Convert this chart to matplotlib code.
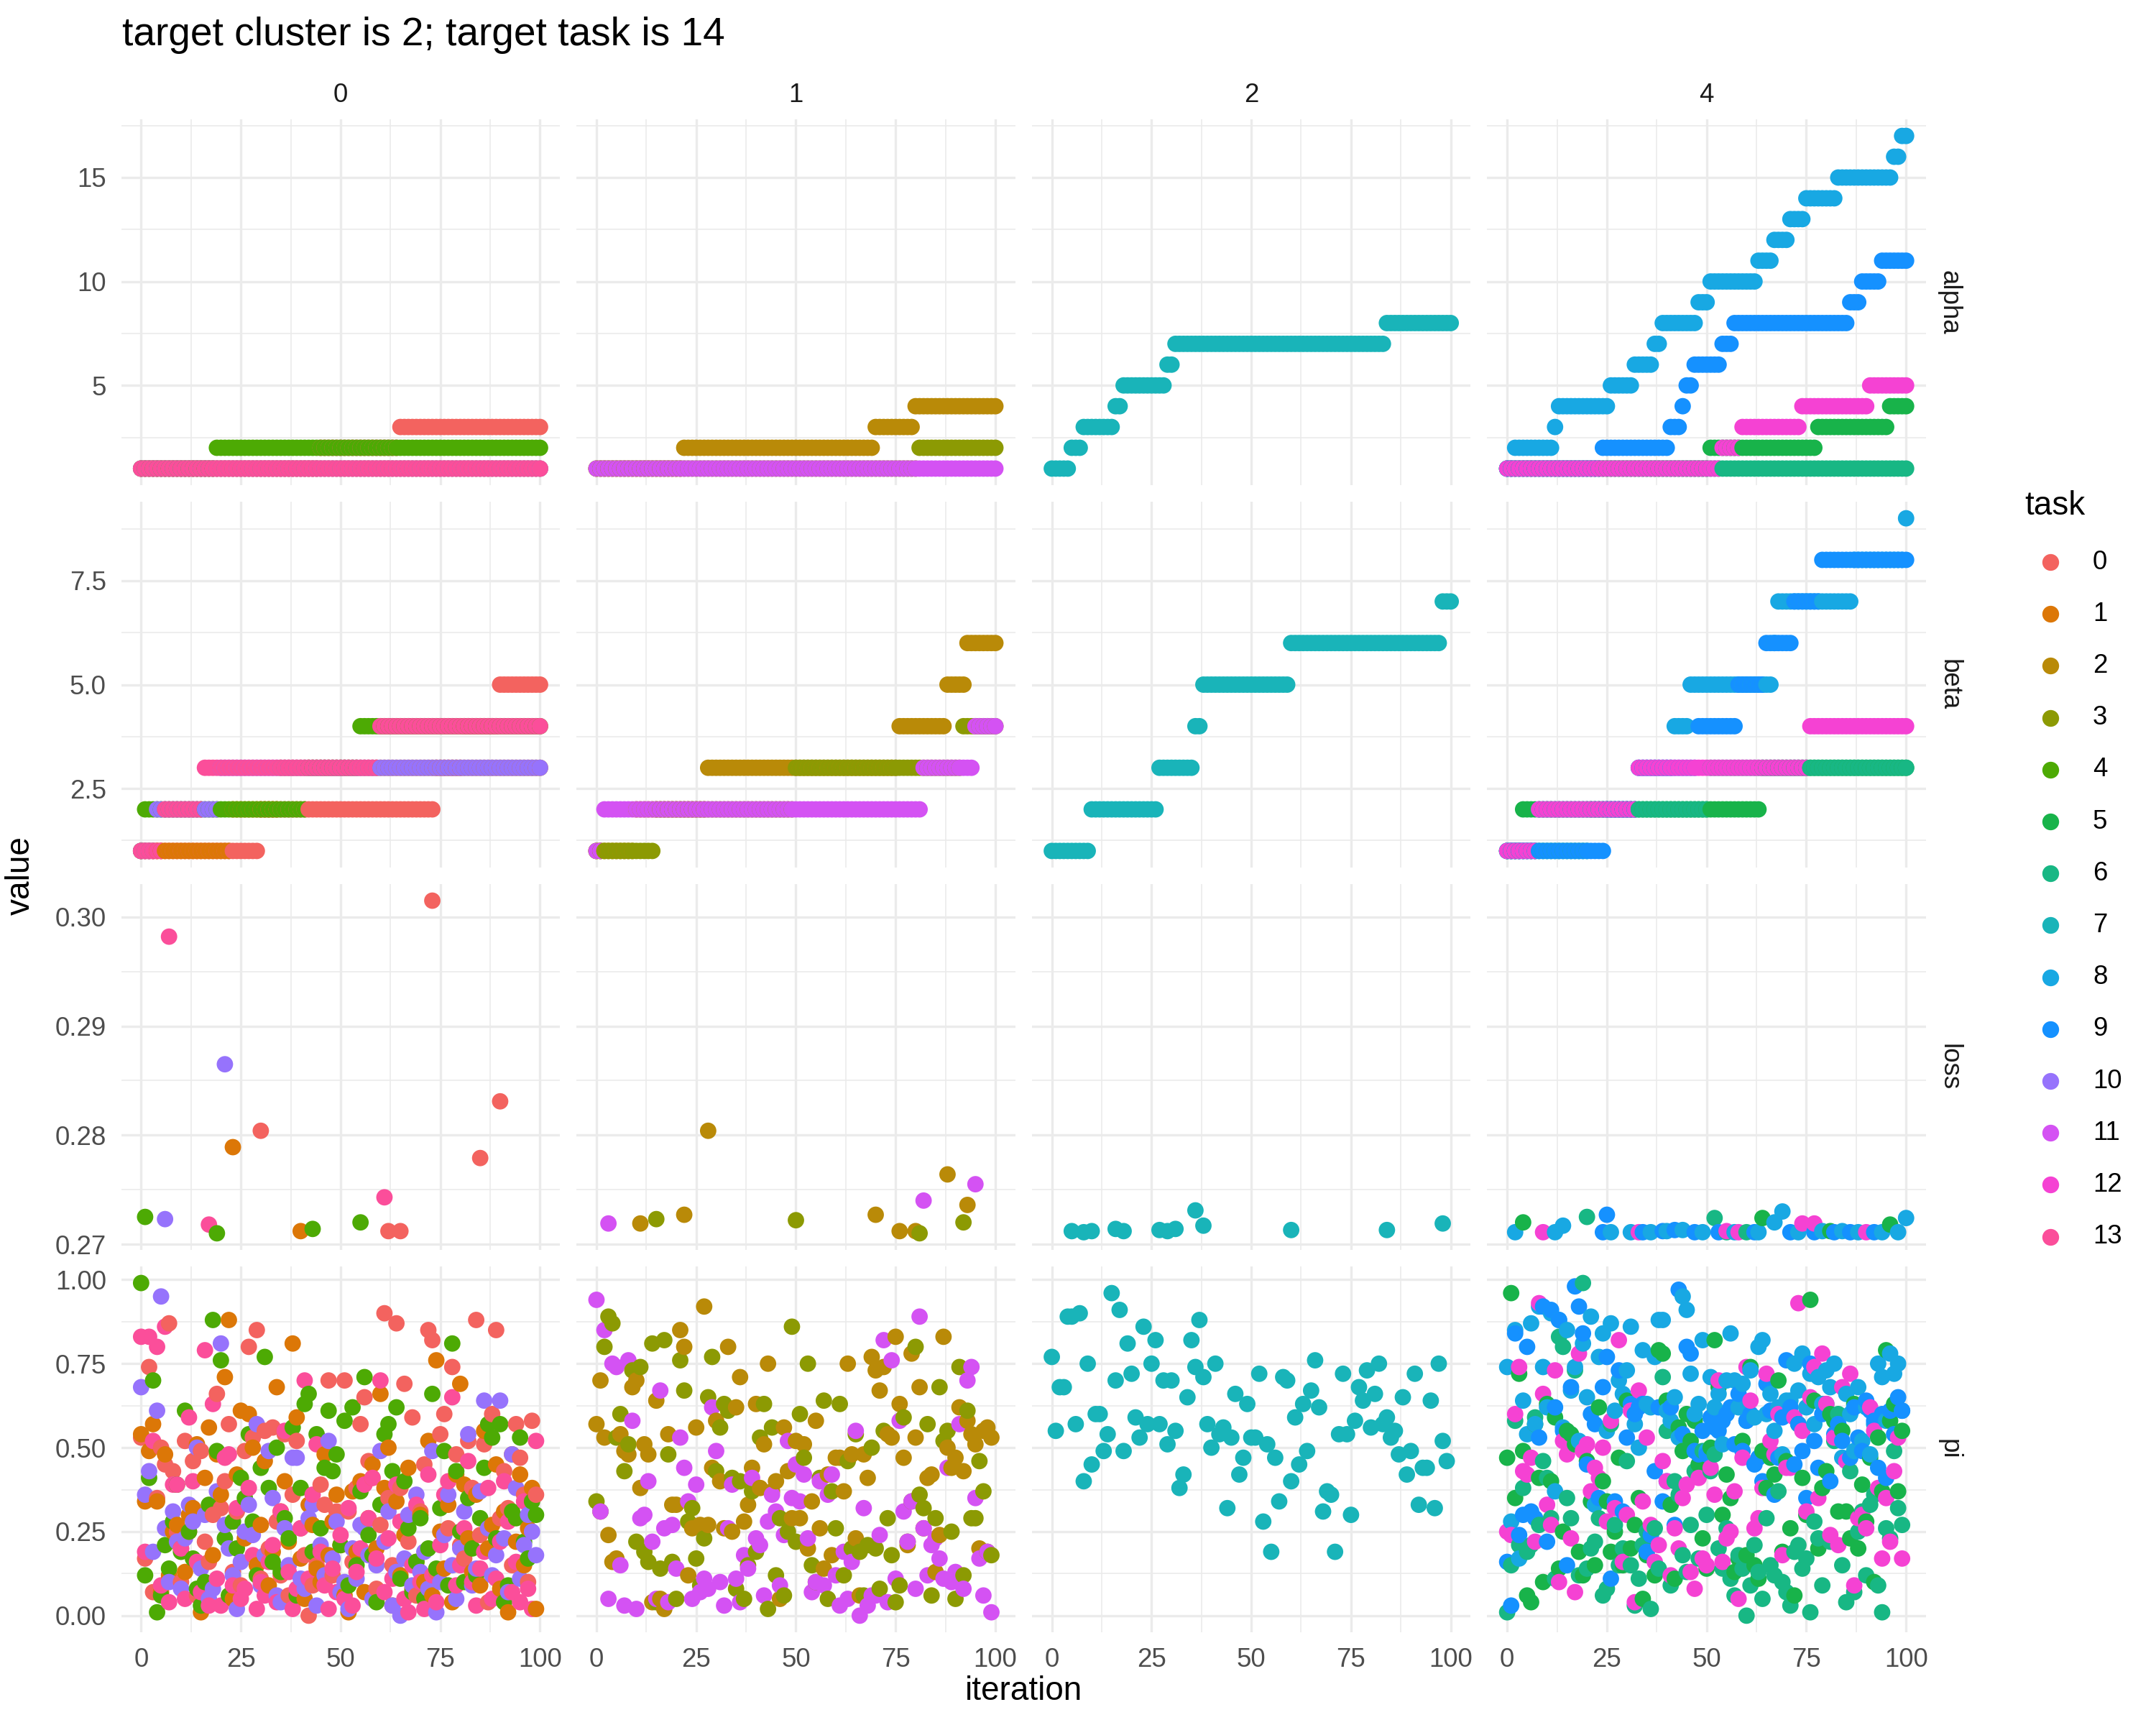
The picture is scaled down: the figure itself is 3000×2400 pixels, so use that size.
import numpy as np
import matplotlib
matplotlib.use('Agg')
import matplotlib.pyplot as plt
from matplotlib.lines import Line2D

plt.rcParams['font.family'] = ['Liberation Sans', 'DejaVu Sans']

# ---- data ----
clusters = [0, 1, 2, 4]
cluster_tasks = {0: [0, 1, 4, 10, 13], 1: [2, 3, 11], 2: [7], 4: [5, 6, 8, 9, 12]}
tasks = list(range(14))
task_colors = ['#F3635F', '#DC7707', '#B98A08', '#8C9A03', '#4DAA04', '#18B34A', '#18B784',
               '#19B4B9', '#18A8E3', '#1591FF', '#9673FC', '#D452F3', '#F542D3', '#FB4E9A']

# alpha / beta are step series: (first iteration, value)
alpha_runs = {
    0: [(0, 1), (45, 2), (65, 3)],
    1: [(0, 1)],
    4: [(0, 1), (19, 2)],
    10: [(0, 1)],
    13: [(0, 1)],
    2: [(0, 1), (22, 2), (70, 3), (80, 4)],
    3: [(0, 1), (81, 2)],
    11: [(0, 1)],
    7: [(0, 1), (5, 2), (8, 3), (16, 4), (18, 5), (29, 6), (31, 7), (84, 8)],
    5: [(0, 1), (51, 2), (78, 3), (96, 4)],
    6: [(0, 1)],
    8: [(0, 1), (2, 2), (12, 3), (13, 4), (26, 5), (32, 6), (37, 7), (39, 8), (48, 9), (51, 10),
        (63, 11), (67, 12), (71, 13), (75, 14), (83, 15), (97, 16), (99, 17)],
    9: [(0, 1), (24, 2), (41, 3), (44, 4), (45, 5), (47, 6), (54, 7), (57, 8), (86, 9), (89, 10), (94, 11)],
    12: [(0, 1), (54, 2), (59, 3), (74, 4), (91, 5)],
}
beta_runs = {
    0: [(0, 1), (30, 2), (74, 3), (81, 4), (90, 5)],
    1: [(0, 1), (23, 2), (35, 3)],
    4: [(0, 1), (1, 2), (42, 3), (55, 4)],
    10: [(0, 1), (4, 2), (20, 3)],
    13: [(0, 1), (6, 2), (16, 3), (60, 4)],
    2: [(0, 1), (10, 2), (28, 3), (76, 4), (88, 5), (93, 6)],
    3: [(0, 1), (15, 2), (50, 3), (92, 4)],
    11: [(0, 1), (2, 2), (82, 3), (95, 4)],
    7: [(0, 1), (10, 2), (27, 3), (36, 4), (38, 5), (60, 6), (98, 7)],
    5: [(0, 1), (4, 2), (64, 3)],
    6: [(0, 1), (21, 2), (51, 3)],
    8: [(0, 1), (8, 2), (33, 3), (42, 4), (46, 5), (67, 6), (68, 7), (87, 8), (100, 9)],
    9: [(0, 1), (25, 2), (33, 3), (48, 4), (58, 5), (65, 6), (72, 7), (79, 8)],
    12: [(0, 1), (8, 2), (33, 3), (76, 4)],
}

# loss: (iteration, value) where recorded
loss_pts = {
    0: [(30, 0.2804), (62, 0.2712), (65, 0.2712), (73, 0.3015), (85, 0.2779), (90, 0.2831)],
    1: [(23, 0.2789), (40, 0.2712)],
    4: [(1, 0.2725), (19, 0.2710), (43, 0.2714), (55, 0.2720)],
    10: [(6, 0.2723), (21, 0.2865)],
    13: [(7, 0.2982), (17, 0.2718), (61, 0.2743)],
    2: [(11, 0.2719), (22, 0.2727), (28, 0.2804), (70, 0.2727), (76, 0.2712), (80, 0.2712),
        (88, 0.2764), (93, 0.2736)],
    3: [(15, 0.2723), (50, 0.2722), (81, 0.2710), (92, 0.2720)],
    11: [(3, 0.2719), (82, 0.2740), (95, 0.2755)],
    7: [(5, 0.2712), (8, 0.2711), (10, 0.2712), (16, 0.2714), (18, 0.2712), (27, 0.2713), (29, 0.2712),
        (31, 0.2714), (36, 0.2731), (38, 0.2717), (60, 0.2713), (84, 0.2713), (98, 0.2719)],
    5: [(4, 0.2720), (64, 0.2724), (81, 0.2712), (96, 0.2718)],
    6: [(20, 0.2725), (52, 0.2724), (55, 0.2711), (60, 0.2711)],
    8: [(2, 0.2711), (12, 0.2711), (14, 0.2717), (26, 0.2711), (31, 0.2711), (36, 0.2711), (40, 0.2712),
        (44, 0.2713), (49, 0.2711), (57, 0.2711), (63, 0.2711), (67, 0.2720), (69, 0.2730), (73, 0.2711),
        (79, 0.2712), (84, 0.2712), (88, 0.2711), (94, 0.2711), (98, 0.2711), (100, 0.2724)],
    9: [(24, 0.2711), (25, 0.2727), (34, 0.2711), (39, 0.2712), (42, 0.2713), (47, 0.2711), (53, 0.2711),
        (62, 0.2711), (71, 0.2711), (77, 0.2711), (82, 0.2711), (86, 0.2711), (92, 0.2711)],
    12: [(9, 0.2711), (33, 0.2711), (55, 0.2712), (58, 0.2711), (74, 0.2719), (77, 0.2719), (90, 0.2711)],
}

# pi: one value per iteration 0..99
pi_vals = {
    0: [0.53, 0.17, 0.74, 0.07, 0.35, 0.50, 0.45, 0.87, 0.43, 0.25, 0.10, 0.52, 0.25, 0.46, 0.06, 0.49, 0.22, 0.16, 0.30, 0.66,
        0.32, 0.40, 0.57, 0.13, 0.31, 0.09, 0.49, 0.80, 0.53, 0.85, 0.11, 0.55, 0.20, 0.56, 0.28, 0.12, 0.54, 0.06, 0.36, 0.52,
        0.26, 0.18, 0.00, 0.09, 0.15, 0.39, 0.33, 0.70, 0.12, 0.31, 0.21, 0.70, 0.31, 0.16, 0.38, 0.57, 0.65, 0.46, 0.41, 0.08,
        0.27, 0.90, 0.35, 0.15, 0.87, 0.38, 0.69, 0.22, 0.59, 0.06, 0.31, 0.45, 0.85, 0.82, 0.13, 0.54, 0.60, 0.26, 0.74, 0.48,
        0.21, 0.17, 0.52, 0.38, 0.88, 0.24, 0.51, 0.04, 0.60, 0.85, 0.29, 0.43, 0.32, 0.15, 0.57, 0.47, 0.36, 0.10, 0.58, 0.36],
    1: [0.54, 0.34, 0.49, 0.57, 0.34, 0.07, 0.48, 0.12, 0.25, 0.27, 0.20, 0.13, 0.30, 0.32, 0.51, 0.01, 0.41, 0.56, 0.18, 0.48,
        0.36, 0.71, 0.88, 0.05, 0.42, 0.61, 0.23, 0.60, 0.50, 0.15, 0.27, 0.46, 0.09, 0.19, 0.68, 0.31, 0.40, 0.22, 0.81, 0.59,
        0.17, 0.05, 0.33, 0.27, 0.14, 0.10, 0.48, 0.18, 0.28, 0.36, 0.21, 0.06, 0.01, 0.37, 0.19, 0.40, 0.07, 0.29, 0.45, 0.20,
        0.66, 0.38, 0.50, 0.03, 0.34, 0.12, 0.24, 0.44, 0.08, 0.16, 0.30, 0.10, 0.52, 0.06, 0.76, 0.25, 0.14, 0.33, 0.04, 0.42,
        0.69, 0.39, 0.23, 0.13, 0.36, 0.09, 0.55, 0.20, 0.27, 0.45, 0.08, 0.31, 0.01, 0.48, 0.22, 0.42, 0.15, 0.26, 0.38, 0.02],
    4: [0.99, 0.12, 0.41, 0.70, 0.01, 0.06, 0.21, 0.14, 0.28, 0.39, 0.19, 0.61, 0.25, 0.17, 0.08, 0.03, 0.10, 0.33, 0.88, 0.49,
        0.76, 0.23, 0.06, 0.28, 0.20, 0.41, 0.35, 0.54, 0.28, 0.12, 0.44, 0.77, 0.38, 0.16, 0.50, 0.13, 0.29, 0.23, 0.56, 0.06,
        0.38, 0.63, 0.66, 0.19, 0.54, 0.26, 0.44, 0.61, 0.43, 0.48, 0.21, 0.58, 0.09, 0.62, 0.15, 0.37, 0.71, 0.24, 0.18, 0.04,
        0.33, 0.54, 0.57, 0.43, 0.62, 0.11, 0.40, 0.26, 0.07, 0.16, 0.29, 0.05, 0.20, 0.66, 0.14, 0.32, 0.49, 0.09, 0.81, 0.43,
        0.25, 0.10, 0.35, 0.20, 0.12, 0.29, 0.44, 0.57, 0.53, 0.23, 0.57, 0.04, 0.09, 0.31, 0.29, 0.53, 0.22, 0.17, 0.34, 0.30],
    10: [0.68, 0.36, 0.43, 0.19, 0.61, 0.95, 0.26, 0.10, 0.31, 0.22, 0.08, 0.23, 0.33, 0.28, 0.50, 0.14, 0.30, 0.05, 0.08, 0.37,
         0.81, 0.27, 0.20, 0.12, 0.02, 0.16, 0.25, 0.33, 0.24, 0.57, 0.09, 0.18, 0.49, 0.35, 0.06, 0.04, 0.26, 0.15, 0.47, 0.47,
         0.11, 0.08, 0.29, 0.33, 0.03, 0.21, 0.12, 0.52, 0.17, 0.28, 0.07, 0.10, 0.02, 0.20, 0.11, 0.27, 0.26, 0.18, 0.05, 0.15,
         0.49, 0.22, 0.31, 0.03, 0.13, 0.00, 0.17, 0.30, 0.09, 0.36, 0.13, 0.19, 0.08, 0.49, 0.01, 0.10, 0.24, 0.36, 0.15, 0.05,
         0.20, 0.31, 0.54, 0.09, 0.14, 0.37, 0.64, 0.26, 0.12, 0.18, 0.64, 0.23, 0.07, 0.48, 0.38, 0.11, 0.21, 0.30, 0.25, 0.18],
    13: [0.83, 0.19, 0.83, 0.52, 0.80, 0.09, 0.86, 0.04, 0.39, 0.39, 0.20, 0.05, 0.59, 0.40, 0.16, 0.07, 0.79, 0.03, 0.63, 0.11,
         0.03, 0.47, 0.48, 0.09, 0.32, 0.05, 0.08, 0.38, 0.18, 0.02, 0.10, 0.06, 0.16, 0.21, 0.04, 0.31, 0.55, 0.13, 0.02, 0.08,
         0.26, 0.70, 0.11, 0.36, 0.51, 0.19, 0.09, 0.02, 0.14, 0.07, 0.24, 0.05, 0.32, 0.03, 0.13, 0.20, 0.39, 0.29, 0.41, 0.17,
         0.70, 0.07, 0.23, 0.11, 0.39, 0.28, 0.05, 0.01, 0.15, 0.33, 0.10, 0.02, 0.42, 0.12, 0.04, 0.21, 0.36, 0.40, 0.65, 0.09,
         0.15, 0.26, 0.46, 0.10, 0.03, 0.14, 0.19, 0.38, 0.05, 0.11, 0.22, 0.40, 0.28, 0.07, 0.16, 0.04, 0.34, 0.08, 0.02, 0.52],
    2: [0.57, 0.70, 0.53, 0.24, 0.16, 0.17, 0.54, 0.49, 0.48, 0.68, 0.70, 0.38, 0.51, 0.48, 0.04, 0.64, 0.05, 0.02, 0.54, 0.33,
        0.33, 0.85, 0.80, 0.12, 0.26, 0.56, 0.27, 0.92, 0.27, 0.44, 0.58, 0.40, 0.26, 0.80, 0.25, 0.62, 0.71, 0.28, 0.33, 0.44,
        0.63, 0.38, 0.51, 0.75, 0.37, 0.40, 0.05, 0.56, 0.43, 0.29, 0.52, 0.29, 0.51, 0.20, 0.34, 0.58, 0.26, 0.14, 0.42, 0.18,
        0.47, 0.47, 0.37, 0.75, 0.48, 0.23, 0.06, 0.48, 0.41, 0.77, 0.73, 0.67, 0.74, 0.54, 0.53, 0.83, 0.63, 0.47, 0.21, 0.78,
        0.53, 0.68, 0.26, 0.41, 0.42, 0.13, 0.24, 0.83, 0.50, 0.44, 0.47, 0.62, 0.43, 0.58, 0.54, 0.51, 0.20, 0.55, 0.56, 0.53],
    3: [0.34, 0.31, 0.80, 0.89, 0.87, 0.53, 0.60, 0.43, 0.51, 0.73, 0.22, 0.74, 0.19, 0.16, 0.81, 0.04, 0.14, 0.82, 0.48, 0.16,
        0.05, 0.76, 0.67, 0.28, 0.32, 0.17, 0.09, 0.23, 0.65, 0.77, 0.43, 0.56, 0.63, 0.61, 0.41, 0.08, 0.40, 0.05, 0.15, 0.37,
        0.19, 0.53, 0.63, 0.02, 0.56, 0.12, 0.29, 0.06, 0.25, 0.86, 0.22, 0.60, 0.47, 0.75, 0.15, 0.10, 0.41, 0.64, 0.05, 0.37,
        0.26, 0.63, 0.12, 0.46, 0.20, 0.54, 0.19, 0.06, 0.21, 0.50, 0.20, 0.08, 0.55, 0.29, 0.18, 0.04, 0.09, 0.59, 0.22, 0.34,
        0.80, 0.36, 0.32, 0.57, 0.06, 0.29, 0.68, 0.52, 0.55, 0.25, 0.05, 0.74, 0.12, 0.61, 0.29, 0.29, 0.46, 0.37, 0.19, 0.18],
    11: [0.94, 0.31, 0.85, 0.05, 0.75, 0.74, 0.15, 0.03, 0.76, 0.58, 0.02, 0.29, 0.30, 0.40, 0.22, 0.05, 0.67, 0.26, 0.04, 0.27,
         0.14, 0.53, 0.44, 0.34, 0.05, 0.39, 0.07, 0.11, 0.08, 0.62, 0.49, 0.10, 0.03, 0.26, 0.39, 0.11, 0.04, 0.18, 0.14, 0.41,
         0.23, 0.21, 0.06, 0.28, 0.36, 0.31, 0.09, 0.24, 0.52, 0.35, 0.45, 0.34, 0.42, 0.23, 0.07, 0.10, 0.40, 0.09, 0.36, 0.42,
         0.12, 0.03, 0.19, 0.05, 0.16, 0.55, 0.00, 0.32, 0.03, 0.06, 0.06, 0.24, 0.82, 0.04, 0.76, 0.11, 0.58, 0.31, 0.22, 0.34,
         0.08, 0.89, 0.26, 0.12, 0.21, 0.23, 0.17, 0.11, 0.44, 0.10, 0.13, 0.57, 0.08, 0.70, 0.74, 0.35, 0.17, 0.06, 0.19, 0.01],
    7: [0.77, 0.55, 0.68, 0.68, 0.89, 0.89, 0.57, 0.90, 0.40, 0.75, 0.45, 0.60, 0.60, 0.49, 0.54, 0.96, 0.70, 0.91, 0.49, 0.81,
        0.72, 0.59, 0.53, 0.86, 0.57, 0.75, 0.82, 0.57, 0.70, 0.51, 0.70, 0.55, 0.38, 0.42, 0.65, 0.82, 0.74, 0.88, 0.71, 0.57,
        0.50, 0.75, 0.54, 0.56, 0.32, 0.53, 0.66, 0.42, 0.47, 0.63, 0.53, 0.53, 0.72, 0.28, 0.51, 0.19, 0.47, 0.34, 0.71, 0.70,
        0.40, 0.59, 0.45, 0.63, 0.49, 0.67, 0.76, 0.62, 0.31, 0.37, 0.36, 0.19, 0.54, 0.72, 0.54, 0.30, 0.58, 0.68, 0.64, 0.73,
        0.56, 0.66, 0.75, 0.57, 0.59, 0.53, 0.55, 0.48, 0.65, 0.42, 0.49, 0.72, 0.33, 0.44, 0.44, 0.64, 0.32, 0.75, 0.52, 0.46],
    5: [0.47, 0.96, 0.35, 0.72, 0.49, 0.06, 0.04, 0.57, 0.41, 0.10, 0.63, 0.40, 0.59, 0.14, 0.25, 0.55, 0.54, 0.51, 0.19, 0.12,
        0.46, 0.34, 0.15, 0.62, 0.40, 0.34, 0.19, 0.25, 0.47, 0.15, 0.64, 0.20, 0.27, 0.35, 0.05, 0.18, 0.24, 0.12, 0.79, 0.78,
        0.64, 0.33, 0.11, 0.56, 0.49, 0.60, 0.52, 0.58, 0.45, 0.23, 0.14, 0.50, 0.82, 0.68, 0.30, 0.42, 0.35, 0.13, 0.17, 0.52,
        0.18, 0.74, 0.15, 0.11, 0.49, 0.38, 0.47, 0.42, 0.70, 0.19, 0.46, 0.26, 0.06, 0.57, 0.41, 0.30, 0.94, 0.64, 0.20, 0.38,
        0.43, 0.60, 0.58, 0.31, 0.55, 0.31, 0.23, 0.63, 0.20, 0.39, 0.28, 0.47, 0.10, 0.53, 0.37, 0.79, 0.58, 0.63, 0.37, 0.55],
    6: [0.01, 0.15, 0.58, 0.21, 0.38, 0.19, 0.21, 0.59, 0.27, 0.46, 0.41, 0.29, 0.11, 0.83, 0.80, 0.35, 0.29, 0.73, 0.12, 0.99,
        0.14, 0.20, 0.22, 0.29, 0.06, 0.08, 0.57, 0.27, 0.15, 0.20, 0.46, 0.15, 0.03, 0.11, 0.21, 0.25, 0.02, 0.26, 0.14, 0.71,
        0.55, 0.09, 0.40, 0.36, 0.18, 0.13, 0.27, 0.43, 0.17, 0.49, 0.30, 0.43, 0.48, 0.20, 0.14, 0.26, 0.11, 0.06, 0.18, 0.14,
        0.00, 0.09, 0.21, 0.13, 0.05, 0.29, 0.15, 0.12, 0.37, 0.10, 0.07, 0.03, 0.19, 0.21, 0.14, 0.17, 0.01, 0.28, 0.23, 0.09,
        0.63, 0.22, 0.52, 0.60, 0.15, 0.04, 0.43, 0.07, 0.25, 0.31, 0.12, 0.33, 0.36, 0.09, 0.01, 0.26, 0.23, 0.49, 0.32, 0.27],
    8: [0.74, 0.28, 0.85, 0.17, 0.64, 0.54, 0.87, 0.57, 0.92, 0.74, 0.62, 0.90, 0.37, 0.88, 0.56, 0.85, 0.67, 0.74, 0.52, 0.81,
        0.65, 0.89, 0.33, 0.77, 0.84, 0.55, 0.87, 0.61, 0.70, 0.66, 0.73, 0.86, 0.57, 0.50, 0.79, 0.63, 0.62, 0.77, 0.88, 0.88,
        0.61, 0.58, 0.65, 0.53, 0.95, 0.91, 0.72, 0.60, 0.63, 0.82, 0.49, 0.71, 0.62, 0.66, 0.51, 0.70, 0.84, 0.70, 0.62, 0.69,
        0.58, 0.73, 0.59, 0.80, 0.82, 0.60, 0.66, 0.55, 0.62, 0.48, 0.64, 0.64, 0.75, 0.67, 0.78, 0.62, 0.72, 0.57, 0.71, 0.63,
        0.73, 0.68, 0.75, 0.57, 0.47, 0.66, 0.60, 0.49, 0.68, 0.52, 0.62, 0.48, 0.57, 0.75, 0.71, 0.58, 0.78, 0.72, 0.75, 0.61],
    9: [0.16, 0.03, 0.84, 0.24, 0.30, 0.80, 0.31, 0.29, 0.53, 0.92, 0.22, 0.91, 0.62, 0.88, 0.55, 0.15, 0.68, 0.98, 0.92, 0.84,
        0.45, 0.60, 0.57, 0.35, 0.68, 0.77, 0.11, 0.34, 0.73, 0.31, 0.53, 0.63, 0.60, 0.62, 0.63, 0.19, 0.24, 0.43, 0.62, 0.34,
        0.40, 0.62, 0.27, 0.97, 0.54, 0.80, 0.78, 0.49, 0.48, 0.55, 0.48, 0.59, 0.56, 0.55, 0.58, 0.60, 0.62, 0.51, 0.66, 0.49,
        0.58, 0.60, 0.45, 0.47, 0.40, 0.69, 0.61, 0.36, 0.47, 0.59, 0.76, 0.62, 0.45, 0.57, 0.49, 0.35, 0.75, 0.52, 0.44, 0.60,
        0.61, 0.40, 0.54, 0.57, 0.52, 0.46, 0.47, 0.62, 0.53, 0.49, 0.64, 0.61, 0.58, 0.44, 0.60, 0.41, 0.61, 0.54, 0.65, 0.61],
    12: [0.25, 0.24, 0.60, 0.74, 0.43, 0.42, 0.47, 0.22, 0.93, 0.66, 0.33, 0.27, 0.73, 0.10, 0.52, 0.48, 0.23, 0.07, 0.78, 0.49,
         0.51, 0.37, 0.44, 0.41, 0.50, 0.28, 0.58, 0.32, 0.82, 0.16, 0.30, 0.61, 0.04, 0.67, 0.34, 0.53, 0.27, 0.16, 0.21, 0.46,
         0.40, 0.12, 0.26, 0.20, 0.35, 0.39, 0.13, 0.08, 0.41, 0.17, 0.15, 0.44, 0.36, 0.70, 0.16, 0.23, 0.25, 0.37, 0.05, 0.47,
         0.74, 0.64, 0.26, 0.29, 0.38, 0.72, 0.52, 0.48, 0.60, 0.18, 0.44, 0.44, 0.59, 0.93, 0.55, 0.31, 0.65, 0.74, 0.35, 0.78,
         0.63, 0.24, 0.53, 0.21, 0.68, 0.46, 0.72, 0.09, 0.29, 0.30, 0.26, 0.62, 0.55, 0.38, 0.17, 0.35, 0.22, 0.43, 0.53, 0.17],
}

row_vars = ['alpha', 'beta', 'loss', 'pi']
y_major = {'alpha': [5, 10, 15], 'beta': [2.5, 5.0, 7.5],
           'loss': [0.27, 0.28, 0.29, 0.30], 'pi': [0.0, 0.25, 0.5, 0.75, 1.0]}
y_labels = {'alpha': ['5', '10', '15'], 'beta': ['2.5', '5.0', '7.5'],
            'loss': ['0.27', '0.28', '0.29', '0.30'], 'pi': ['0.00', '0.25', '0.50', '0.75', '1.00']}
x_major = [0, 25, 50, 75, 100]


def expand_runs(runs, n=101):
    vals = np.zeros(n)
    for start, v in runs:
        vals[start:] = v
    return vals


def panel_points(var, tlist):
    its, tks, vals = [], [], []
    for t in tlist:
        if var == 'alpha' or var == 'beta':
            runs = alpha_runs[t] if var == 'alpha' else beta_runs[t]
            v = expand_runs(runs)
            it = np.arange(len(v))
        elif var == 'loss':
            it = np.array([p[0] for p in loss_pts[t]])
            v = np.array([p[1] for p in loss_pts[t]])
        else:
            v = np.array(pi_vals[t])
            it = np.arange(len(v))
        its.append(it)
        tks.append(np.full(len(it), t))
        vals.append(v)
    its, tks, vals = np.concatenate(its), np.concatenate(tks), np.concatenate(vals)
    order = np.lexsort((tks, its))  # drawn by iteration, then task
    return its[order], tks[order], vals[order]


# ---- figure ----
W, H = 3000, 2400
fig = plt.figure(figsize=(10, 8), dpi=300)
gs = fig.add_gridspec(4, 4, left=168.6 / W, right=2680 / W, top=1 - 166 / H, bottom=1 - 2271 / H,
                      wspace=0.0377, hspace=0.045)

grid_col = '#EBEBEB'
for r, var in enumerate(row_vars):
    # shared y range per row (free_y facets) with 5% padding
    allv = np.concatenate([panel_points(var, cluster_tasks[c])[2] for c in clusters])
    lo, hi = allv.min(), allv.max()
    pad = 0.05 * (hi - lo)
    ylo, yhi = lo - pad, hi + pad
    maj = y_major[var]
    step = maj[1] - maj[0]
    minors = np.arange(maj[0] - step / 2, maj[-1] + step, step)
    minors = minors[(minors > ylo) & (minors < yhi)]
    for ci, c in enumerate(clusters):
        ax = fig.add_subplot(gs[r, ci])
        it, tk, v = panel_points(var, cluster_tasks[c])
        ax.scatter(it, v, s=30, c=[task_colors[t] for t in tk], linewidths=0, zorder=3)
        ax.set_xticks(x_major)
        ax.set_xticks([12.5, 37.5, 62.5, 87.5], minor=True)
        ax.set_yticks(maj)
        ax.set_yticks(minors, minor=True)
        ax.set_xlim(-5, 105)
        ax.set_ylim(ylo, yhi)
        ax.grid(which='major', color=grid_col, lw=0.8)
        ax.grid(which='minor', color=grid_col, lw=0.4)
        ax.set_axisbelow(True)
        for s in ax.spines.values():
            s.set_visible(False)
        ax.tick_params(which='both', length=0, labelsize=8.8, labelcolor='#4D4D4D', pad=5)
        if ci == 0:
            ax.set_yticklabels(y_labels[var])
        else:
            ax.tick_params(labelleft=False)
        if r == 3:
            ax.set_xticklabels([str(x) for x in x_major])
        else:
            ax.tick_params(labelbottom=False)
        pos = ax.get_position()
        if r == 0:
            fig.text((pos.x0 + pos.x1) / 2, 1 - 133 / H, str(c), ha='center', va='center',
                     fontsize=8.8, color='#1A1A1A')
        if ci == 3:
            fig.text(2712 / W, (pos.y0 + pos.y1) / 2, var, ha='center', va='center',
                     rotation=-90, fontsize=8.8, color='#1A1A1A')

fig.text(170 / W, 1 - 63 / H, 'target cluster is 2; target task is 14', ha='left', va='baseline',
         fontsize=13.2, color='black')
fig.text(1424 / W, 1 - 2353 / H, 'iteration', ha='center', va='center', fontsize=11)
fig.text(29 / W, 1 - 1218 / H, 'value', ha='center', va='center', rotation=90, fontsize=11)

# legend
fig.text(2817 / W, 1 - 704 / H, 'task', ha='left', va='center', fontsize=11)
for i, t in enumerate(tasks):
    y = 1 - (782 + i * 72.2) / H
    fig.add_artist(Line2D([2853 / W], [y], marker='o', markersize=5.6, color=task_colors[t],
                          markeredgewidth=0, linestyle='none', transform=fig.transFigure))
    fig.text(2912 / W, y, str(t), ha='left', va='center', fontsize=8.8, color='black')

fig.savefig('out.png', dpi=300, facecolor='white')
